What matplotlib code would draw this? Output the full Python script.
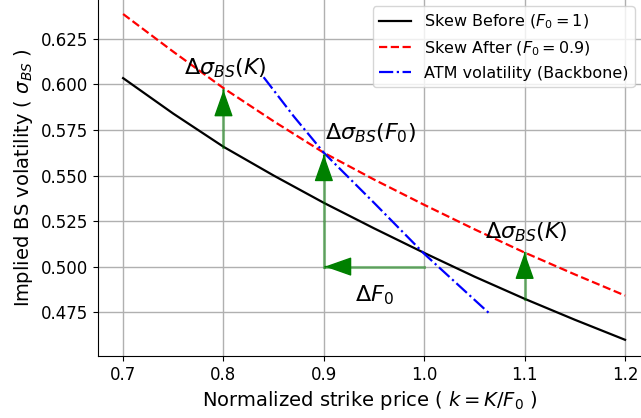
import numpy as np
import matplotlib
matplotlib.use("Agg")
import matplotlib.pyplot as plt

# strike grid (k = K / F0)
strikes = [0.70, 0.75, 0.80, 0.85, 0.90, 0.95, 1.00, 1.05, 1.10, 1.15, 1.20]
# implied vols
vol_before = [0.6035, 0.5840, 0.5658, 0.5500, 0.5350, 0.5210, 0.5075,
              0.4945, 0.4823, 0.4708, 0.4598]
vol_after = [0.6387, 0.6180, 0.5980, 0.5798, 0.5625, 0.5478, 0.5339,
             0.5205, 0.5077, 0.4957, 0.4841]
# backbone (ATM vol as forward moves)
backbone_k = [0.84, 0.87, 0.90, 0.95, 1.00, 1.065]
backbone_vol = [0.604, 0.5825, 0.5625, 0.535, 0.507, 0.4742]

# arrows: (x0, y0, x1, y1) from shaft start to head tip
arrows = [
    (0.80, 0.5658, 0.80, 0.5970),
    (0.90, 0.5000, 0.90, 0.5614),
    (1.00, 0.5000, 0.901, 0.5000),
    (1.10, 0.4823, 1.10, 0.5077),
]
labels = [
    (0.7607, 0.6053, r"$\Delta\sigma_{BS}(K)$"),
    (0.901, 0.5696, r"$\Delta\sigma_{BS}(F_0)$"),
    (0.9308, 0.4810, r"$\Delta F_0$"),
    (1.061, 0.5157, r"$\Delta\sigma_{BS}(K)$"),
]

fig = plt.figure(figsize=(6.41, 4.18), dpi=100)
ax = fig.add_axes([98 / 641, 62 / 418, 543 / 641, 356 / 418])

ax.plot(strikes, vol_before, color="black", lw=1.6, label="Skew Before ($F_0=1$)")
ax.plot(strikes, vol_after, color="red", ls="--", lw=1.6, label="Skew After ($F_0=0.9$)")
ax.plot(backbone_k, backbone_vol, color="blue", ls="-.", lw=1.6,
        label="ATM volatility (Backbone)")

for x0, y0, x1, y1 in arrows:
    ax.plot([x0, x1], [y0, y1], color="green", alpha=0.45, lw=2.2)
    # head only, drawn a tiny bit before the tip
    hx = x1 - (x1 - x0) * 0.01
    hy = y1 - (y1 - y0) * 0.01
    ax.annotate("", xy=(x1, y1), xytext=(hx, hy),
                arrowprops=dict(arrowstyle="-|>,head_width=0.3,head_length=0.85",
                                mutation_scale=20, color="green", lw=1))

for x, y, s in labels:
    ax.text(x, y, s, fontsize=16, ha="left", va="baseline")

ax.set_xlim(0.675, 1.2159)
ax.set_ylim(0.4509, 0.6464)
ax.set_yticks([0.475, 0.5, 0.525, 0.55, 0.575, 0.6, 0.625])
ax.tick_params(labelsize=12)
ax.grid(True, color="#b0b0b0", lw=1)
ax.spines["top"].set_visible(False)
ax.spines["right"].set_visible(False)

ax.set_xlabel("Normalized strike price ( $k=K/F_0$ )", fontsize=14)
ax.set_ylabel(r"Implied BS volatility ( $\sigma_{BS}$ )", fontsize=14)
ax.legend(loc="upper right", bbox_to_anchor=(1.0, 1.0), fontsize=11.5,
          borderaxespad=0.4)

fig.savefig("out.png", dpi=100)
